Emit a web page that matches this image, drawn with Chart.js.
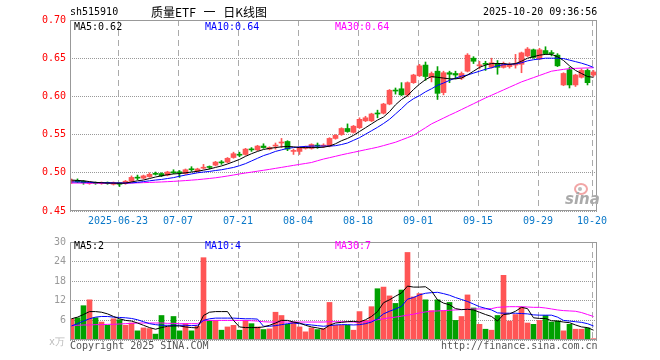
<!DOCTYPE html>
<html>
<head>
<meta charset="utf-8">
<script src="https://cdn.jsdelivr.net/npm/chart.js@4.4.0/dist/chart.umd.min.js"></script>
<style>
body{margin:0;background:#fff;width:660px;height:360px;overflow:hidden;position:relative;font-family:'DejaVu Sans Mono',monospace;}
.t{position:absolute;font-size:10px;line-height:12px;white-space:pre;}
canvas{position:absolute;left:0;}
#c1{top:0;}
#c2{top:232px;}
</style>
</head>
<body>
<canvas id="c1" width="660" height="232"></canvas>
<canvas id="c2" width="660" height="128"></canvas>

<div class="t" style="left:70px;top:6px;color:#000">sh515910</div>
<div class="t" style="left:151px;top:5px;font-size:12px;line-height:14px;font-family:'Noto Sans CJK SC',sans-serif;word-spacing:5px;color:#000">质量ETF 一 日K线图</div>
<div class="t" style="left:483px;top:6px;color:#000">2025-10-20 09:36:56</div>

<div class="t" style="left:74px;top:21px;color:#000">MA5:0.62</div>
<div class="t" style="left:205px;top:21px;color:#0000ff">MA10:0.64</div>
<div class="t" style="left:335px;top:21px;color:#ff00ff">MA30:0.64</div>

<div class="t" style="left:74px;top:240px;color:#000">MA5:2</div>
<div class="t" style="left:205px;top:240px;color:#0000ff">MA10:4</div>
<div class="t" style="left:335px;top:240px;color:#ff00ff">MA30:7</div>

<div class="t" style="left:49px;top:336px;color:#bbb">x万</div>
<div class="t" style="left:70px;top:340px;color:#555">Copyright 2025 SINA.COM</div>
<div class="t" style="left:441px;top:340px;color:#555">http://finance.sina.com.cn</div>

<div style="position:absolute;left:574px;top:183px;width:10px;height:8px;border:2px solid #f2a6a6;border-radius:50%;"></div>
<div style="position:absolute;left:578px;top:187px;width:4px;height:4px;background:#bbb;border-radius:50%;"></div>
<div class="t" style="left:565px;top:192px;font-family:'DejaVu Sans',sans-serif;font-size:15px;line-height:15px;font-weight:bold;font-style:italic;color:#aaa">sina</div>

<script>
// trading days shown on the chart
var dates = ['06-11','06-12','06-13','06-16','06-17','06-18','06-19','06-20',
  '06-23','06-24','06-25','06-26','06-27','06-30',
  '07-01','07-02','07-03','07-04','07-07','07-08','07-09','07-10','07-11',
  '07-14','07-15','07-16','07-17','07-18','07-21','07-22','07-23','07-24','07-25',
  '07-28','07-29','07-30','07-31','08-01','08-04','08-05','08-06','08-07','08-08',
  '08-11','08-12','08-13','08-14','08-15','08-18','08-19','08-20','08-21','08-22',
  '08-25','08-26','08-27','08-28','08-29','09-01','09-02','09-03','09-04','09-05',
  '09-08','09-09','09-10','09-11','09-12','09-15','09-16','09-17','09-18','09-19',
  '09-22','09-23','09-24','09-25','09-26','09-29','09-30','10-09','10-10',
  '10-13','10-14','10-15','10-16','10-17','10-20'];

var openP = [.488,.490,.489,.486,.487,.486,.487,.485,.487,.486,
  .489,.494,.493,.495,.499,.499,.497,.501,.501,.499,
  .505,.502,.506,.508,.510,.514,.514,.520,.524,.524,
  .531,.530,.535,.531,.535,.539,.541,.528,.528,.532,
  .532,.536,.535,.535,.545,.550,.558,.553,.559,.568,
  .568,.578,.578,.590,.608,.610,.602,.618,.627,.641,
  .625,.633,.605,.631,.630,.624,.633,.650,.640,.643,
  .638,.643,.638,.639,.641,.642,.653,.661,.649,.660,
  .657,.654,.615,.635,.615,.625,.634,.628];
var closeP = [.490,.488,.487,.487,.486,.487,.486,.487,.485,.489,
  .494,.493,.496,.498,.498,.496,.501,.500,.500,.504,
  .504,.505,.507,.507,.514,.513,.519,.525,.523,.531,
  .530,.535,.533,.533,.536,.540,.531,.529,.533,.534,
  .537,.535,.536,.545,.549,.558,.554,.561,.570,.572,
  .577,.577,.590,.608,.607,.602,.618,.628,.640,.626,
  .630,.604,.631,.629,.628,.630,.654,.646,.641,.642,
  .644,.638,.643,.642,.642,.657,.662,.651,.661,.656,
  .656,.640,.630,.615,.628,.634,.618,.632];
var highP = [.492,.492,.490,.488,.488,.488,.488,.488,.487,.490,
  .496,.497,.497,.500,.501,.500,.502,.504,.503,.505,
  .508,.506,.511,.509,.515,.516,.520,.527,.527,.532,
  .533,.536,.538,.534,.539,.545,.542,.531,.534,.535,
  .538,.539,.538,.546,.550,.559,.564,.562,.572,.574,
  .578,.582,.591,.609,.611,.618,.619,.629,.642,.645,
  .632,.639,.633,.633,.633,.632,.656,.652,.646,.646,
  .650,.647,.645,.644,.655,.658,.664,.662,.663,.665,
  .660,.656,.631,.638,.629,.636,.636,.634];
var lowP = [.486,.487,.485,.485,.485,.485,.485,.484,.482,.485,
  .488,.491,.492,.494,.497,.495,.496,.499,.494,.498,
  .502,.501,.505,.505,.509,.511,.513,.519,.521,.523,
  .528,.529,.532,.530,.531,.533,.529,.524,.524,.531,
  .531,.532,.533,.534,.544,.549,.553,.552,.558,.567,
  .567,.572,.577,.589,.603,.601,.600,.617,.626,.621,
  .619,.596,.602,.618,.623,.622,.632,.643,.636,.634,
  .637,.629,.637,.637,.637,.631,.652,.650,.648,.655,
  .653,.639,.614,.611,.613,.624,.615,.626];

var ma5 = [.4905,.4900,.4895,.4885,.4875,.4870,.4865,.4865,.4862,.4865,
  .4880,.4895,.4905,.4925,.4945,.4960,.4975,.4985,.4990,.5000,
  .5010,.5020,.5035,.5050,.5070,.5090,.5115,.5145,.5175,.5215,
  .5250,.5280,.5305,.5320,.5330,.5340,.5345,.5340,.5330,.5330,
  .5330,.5330,.5335,.5350,.5380,.5420,.5450,.5490,.5540,.5590,
  .5640,.5690,.5730,.5800,.5890,.5960,.6010,.6090,.6160,.6220,
  .6260,.6250,.6240,.6230,.6230,.6240,.6280,.6330,.6380,.6410,
  .6430,.6430,.6430,.6420,.6430,.6460,.6500,.6520,.6540,.6550,
  .6550,.6520,.6470,.6400,.6340,.6300,.6260,.6250];
var ma10 = [.4880,.4880,.4878,.4875,.4872,.4870,.4870,.4868,.4866,.4866,
  .4868,.4875,.4885,.4895,.4905,.4913,.4925,.4937,.4955,.4970,
  .4985,.5000,.5010,.5018,.5030,.5040,.5055,.5070,.5093,.5120,
  .5155,.5190,.5225,.5250,.5280,.5300,.5320,.5330,.5340,.5345,
  .5350,.5350,.5350,.5350,.5355,.5370,.5390,.5425,.5460,.5505,
  .5550,.5595,.5645,.5700,.5770,.5840,.5915,.5970,.6010,.6060,
  .6100,.6145,.6175,.6210,.6240,.6265,.6280,.6305,.6330,.6355,
  .6375,.6400,.6415,.6420,.6425,.6440,.6465,.6480,.6490,.6500,
  .6500,.6500,.6495,.6475,.6455,.6435,.6410,.6380];
var ma30 = [.4866,.4866,.4865,.4865,.4865,.4864,.4864,.4864,.4864,.4865,
  .4866,.4868,.4871,.4874,.4877,.4880,.4884,.4888,.4893,.4898,
  .4904,.4910,.4918,.4926,.4935,.4946,.4958,.4971,.4985,.4997,
  .5009,.5021,.5033,.5045,.5058,.5071,.5084,.5097,.5110,.5122,
  .5135,.5158,.5180,.5198,.5216,.5235,.5252,.5268,.5285,.5302,
  .5318,.5335,.5356,.5378,.5400,.5430,.5460,.5490,.5540,.5590,
  .5640,.5678,.5716,.5754,.5790,.5828,.5866,.5904,.5942,.5980,
  .6015,.6050,.6085,.6120,.6155,.6190,.6218,.6246,.6274,.6302,
  .6330,.6342,.6354,.6364,.6367,.6370,.6373,.6375];

// volume, in 10k shares
var volume = [6.5,6.8,10.5,12.3,6.8,5.5,4.5,6.5,6.2,4.5,
  5.2,2.8,3.7,3.5,1.8,7.5,4.0,7.2,2.8,5.0,
  2.8,4.2,25.2,6.0,6.0,3.0,4.0,4.5,3.0,6.0,
  5.0,4.0,3.2,3.4,8.5,7.5,4.8,5.5,4.0,2.5,
  3.7,3.2,3.5,11.5,4.5,4.5,4.5,3.0,8.7,6.0,
  10.2,15.7,16.2,13.5,11.2,15.3,26.8,13.2,14.2,12.3,
  9.0,12.3,9.0,11.5,6.0,7.2,13.8,9.8,4.8,3.3,
  3.0,7.5,19.8,5.8,7.8,10.0,5.2,4.8,6.0,7.5,
  5.5,5.8,2.8,4.8,3.3,3.3,3.7,0.4];
var volMa5 = [6.5,7.0,7.8,8.7,8.7,8.5,8.0,7.2,6.5,6.0,
  5.8,5.2,4.5,3.8,3.3,3.8,4.2,4.3,4.3,4.0,
  3.8,3.7,7.5,8.5,8.7,8.7,8.7,6.0,4.0,3.8,
  3.8,3.8,4.0,4.5,5.2,6.0,6.0,5.5,5.2,4.5,
  4.0,3.7,3.3,4.5,5.2,5.4,5.6,5.7,5.5,6.2,
  7.2,8.7,11.4,12.3,13.4,14.4,16.5,16.2,16.2,16.3,
  15.0,12.3,11.3,10.8,9.6,9.3,9.4,9.2,8.5,7.8,
  7.2,5.8,7.8,8.0,8.8,10.0,9.6,6.8,6.6,6.6,
  5.9,5.8,5.5,5.3,4.6,4.0,3.8,3.0];
var volMa10 = [4.3,5.0,5.8,6.5,7.0,7.2,7.2,7.0,6.9,6.8,
  6.6,6.2,5.6,5.0,4.7,4.5,4.5,4.5,4.5,4.5,
  4.4,4.5,6.0,6.5,6.7,6.7,6.7,6.7,6.6,6.5,
  6.5,6.4,4.2,4.2,4.4,4.7,5.0,5.2,5.0,4.8,
  4.6,4.4,4.2,4.4,4.6,4.7,4.7,4.6,4.7,5.0,
  5.5,6.5,8.0,8.8,9.5,10.3,12.5,13.0,13.8,14.3,
  14.5,14.6,14.2,13.7,13.0,12.4,11.8,11.0,10.2,9.7,
  9.2,8.3,8.2,8.2,8.2,8.1,8.0,7.7,7.6,7.6,
  7.6,7.0,6.0,5.8,5.6,5.4,5.0,4.3];
var volMa30 = [4.5,4.5,4.6,4.6,4.7,4.7,4.8,4.8,4.9,5.0,
  5.1,5.2,5.2,5.2,5.2,5.2,5.1,5.1,5.0,5.0,
  5.0,5.0,5.9,6.0,6.0,6.0,6.0,6.0,6.0,6.0,
  5.9,5.8,5.6,5.5,5.5,5.5,5.5,5.5,5.5,5.5,
  5.5,5.5,5.5,5.6,5.6,5.6,5.6,5.5,5.4,5.6,
  5.9,6.2,6.5,6.8,7.0,7.3,7.6,7.9,8.3,8.6,
  8.8,8.9,9.0,9.1,9.2,9.3,9.4,9.5,9.5,9.5,
  9.6,10.0,10.1,10.2,10.2,10.2,10.1,10.0,10.0,9.8,
  9.5,9.2,9.0,8.9,8.8,8.4,7.8,7.2];

// axis labels
var tickDates = ['06-23','07-07','07-21','08-04','08-18','09-01','09-15','09-29','10-20'];
var tickText = ['2025-06-23','07-07','07-21','08-04','08-18','09-01','09-15','09-29','10-20'];
var tickIdx = tickDates.map(function(d){ return dates.indexOf(d); });

var upColor = '#ff5555';
var downColor = '#00a000';
var candleColors = dates.map(function(d, i){ return closeP[i] >= openP[i] ? upColor : downColor; });

function pts(arr){ return arr.map(function(v, i){ return {x: i, y: v}; }); }

// draws the grey box round the plot
var framePlugin = {
  id: 'frame',
  afterDraw: function(chart){
    var a = chart.chartArea, ctx = chart.ctx;
    ctx.save();
    ctx.strokeStyle = '#999';
    ctx.lineWidth = 1;
    ctx.strokeRect(a.left + 0.5, a.top + 0.5, a.right - a.left - 1, a.bottom - a.top - 1);
    ctx.restore();
  }
};

function xAxis(showLabels, h){
  return {
    type: 'linear', min: -0.25, max: 87.5833, offset: false,
    afterBuildTicks: function(s){ s.ticks = tickIdx.map(function(v){ return {value: v - 0.25}; }); },
    grid: {color: '#aaa', drawTicks: false, offset: false},
    border: {display: false, dash: [6, 4]},
    ticks: {
      display: showLabels, autoSkip: false, maxRotation: 0, padding: 4,
      color: '#0a78c8', font: {family: 'DejaVu Sans Mono', size: 10},
      callback: function(v){ var k = tickIdx.indexOf(Math.round(v + 0.25)); return k < 0 ? '' : tickText[k]; }
    },
    afterFit: function(s){ s.height = h; }
  };
}

function lineSet(arr, color){
  return {type: 'line', data: pts(arr), borderColor: color, borderWidth: 1, pointRadius: 0, tension: 0, order: 0};
}

new Chart(document.getElementById('c1'), {
  type: 'bar',
  data: {
    datasets: [
      lineSet(ma5, '#000000'),
      lineSet(ma10, '#0000ff'),
      lineSet(ma30, '#ff00ff'),
      {type: 'bar', data: dates.map(function(d, i){ return {x: i, y: [openP[i], closeP[i]]}; }),
        backgroundColor: candleColors, barThickness: 5, minBarLength: 1, grouped: false, order: 1},
      {type: 'bar', data: dates.map(function(d, i){ return {x: i, y: [lowP[i], highP[i]]}; }),
        backgroundColor: candleColors, barThickness: 1, grouped: false, order: 2}
    ]
  },
  options: {
    responsive: false, animation: false, devicePixelRatio: 1,
    layout: {padding: {left: 0, right: 63, top: 20, bottom: 0}},
    plugins: {legend: {display: false}, tooltip: {enabled: false}},
    scales: {
      x: xAxis(true, 21),
      y: {
        min: 0.45, max: 0.70,
        ticks: {stepSize: 0.05, padding: 4, color: '#ff0000', font: {family: 'DejaVu Sans Mono', size: 10},
          callback: function(v){ return v.toFixed(2); }},
        grid: {color: '#999', drawTicks: false},
        border: {display: false, dash: [1, 1]},
        afterFit: function(s){ s.width = 70; }
      }
    }
  },
  plugins: [framePlugin]
});

new Chart(document.getElementById('c2'), {
  type: 'bar',
  data: {
    datasets: [
      lineSet(volMa5, '#000000'),
      lineSet(volMa10, '#0000ff'),
      lineSet(volMa30, '#ff00ff'),
      {type: 'bar', data: pts(volume), backgroundColor: candleColors, barThickness: 5, grouped: false, order: 1}
    ]
  },
  options: {
    responsive: false, animation: false, devicePixelRatio: 1,
    layout: {padding: {left: 0, right: 63, top: 8, bottom: 0}},
    plugins: {legend: {display: false}, tooltip: {enabled: false}},
    scales: {
      x: xAxis(false, 20),
      y: {
        min: 0, max: 30,
        ticks: {stepSize: 6, padding: 4, color: '#999', font: {family: 'DejaVu Sans Mono', size: 10},
          callback: function(v){ return v === 0 ? '' : v; }},
        grid: {color: '#999', drawTicks: false},
        border: {display: false, dash: [1, 1]},
        afterFit: function(s){ s.width = 70; }
      }
    }
  },
  plugins: [framePlugin]
});
</script>
</body>
</html>
